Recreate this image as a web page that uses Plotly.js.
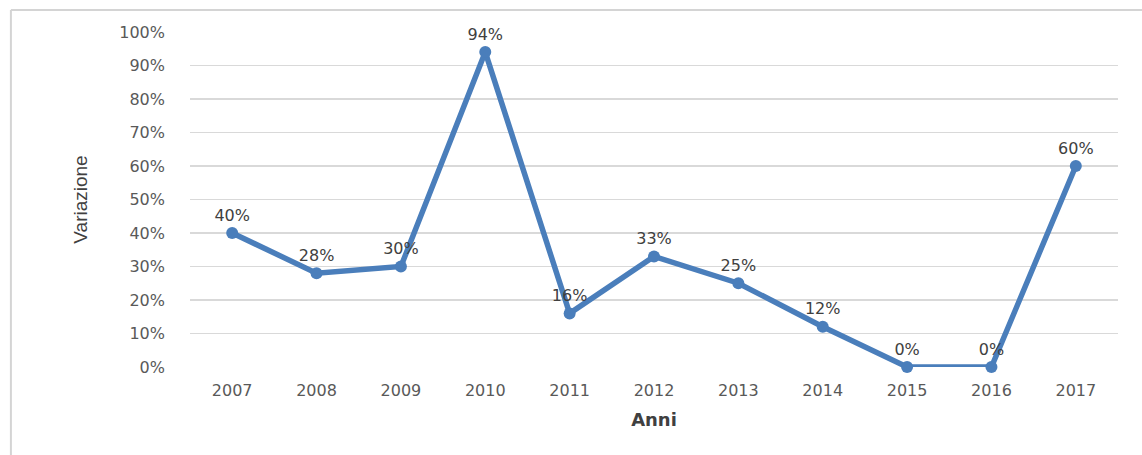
<!DOCTYPE html>
<html>
<head>
<meta charset="utf-8">
<script src="https://cdn.plot.ly/plotly-3.0.1.min.js"></script>
<style>html,body{margin:0;padding:0;background:#fff;}#chart{width:1142px;height:455px;}</style>
</head>
<body>
<div id="chart"></div>
<script>
const years = ['2007','2008','2009','2010','2011','2012','2013','2014','2015','2016','2017'];
const variazione = [0.40, 0.28, 0.30, 0.94, 0.16, 0.33, 0.25, 0.12, 0.00, 0.00, 0.60];
const yTickVals = [0, 0.1, 0.2, 0.3, 0.4, 0.5, 0.6, 0.7, 0.8, 0.9, 1.0];

const trace = {
  x: years,
  y: variazione,
  type: 'scatter',
  mode: 'lines+markers+text',
  line: {color: '#4a7ebb', width: 5.5},
  marker: {color: '#4a7ebb', size: 12},
  text: variazione.map(v => Math.round(v * 100) + '%'),
  textposition: 'top center',
  textfont: {family: 'DejaVu Sans', size: 16, color: '#404040'},
  cliponaxis: false,
  hoverinfo: 'x+y'
};

const layout = {
  width: 1142,
  height: 455,
  margin: {l: 190, r: 24, t: 32, b: 88},
  paper_bgcolor: '#ffffff',
  plot_bgcolor: '#ffffff',
  showlegend: false,
  xaxis: {
    type: 'category',
    range: [-0.5, 10.5],
    showgrid: false,
    zeroline: false,
    showline: false,
    ticks: '',
    ticklabelstandoff: 12,
    tickfont: {family: 'DejaVu Sans', size: 16, color: '#595959'},
    title: {text: 'Anni', font: {family: 'DejaVu Sans', size: 18, color: '#404040', weight: 'bold'}, standoff: 14}
  },
  yaxis: {
    range: [0, 1],
    tickvals: yTickVals,
    tickformat: '.0%',
    showgrid: true,
    gridcolor: '#d9d9d9',
    gridwidth: 1.5,
    zeroline: false,
    showline: false,
    ticks: '',
    ticklabelstandoff: 24,
    tickfont: {family: 'DejaVu Sans', size: 16, color: '#595959'},
    title: {text: 'Variazione', font: {family: 'Liberation Sans Narrow, Liberation Sans, Arial', size: 19, color: '#404040'}, standoff: 26}
  },
  shapes: [
    {type: 'line', xref: 'paper', yref: 'paper', x0: -0.193, x1: 1.03, y0: 1.066, y1: 1.066, line: {color: '#d4d4d4', width: 2}},
    {type: 'line', xref: 'paper', yref: 'paper', x0: -0.193, x1: -0.193, y0: 1.066, y1: -0.27, line: {color: '#d4d4d4', width: 2}}
  ]
};

Plotly.newPlot('chart', [trace], layout, {displayModeBar: false, staticPlot: true});
</script>
</body>
</html>
